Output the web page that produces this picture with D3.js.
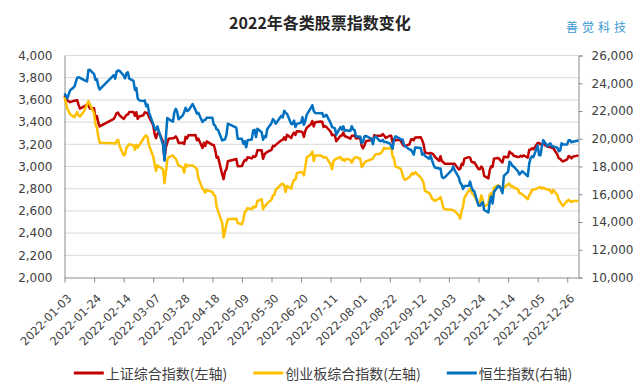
<!DOCTYPE html>
<html><head><meta charset="utf-8">
<script src="https://cdn.jsdelivr.net/npm/d3@7"></script>
<style>
html,body{margin:0;padding:0;background:#fff;}
svg{display:block;}
</style></head>
<body>
<svg id="chart" width="640" height="392"></svg>
<script>
// ---- data ----
const dates = ["2022-01-03","2022-01-05","2022-01-07","2022-01-10","2022-01-12","2022-01-13","2022-01-14","2022-01-17","2022-01-19","2022-01-20","2022-01-21","2022-01-24","2022-01-25","2022-01-26","2022-01-27","2022-01-28",
"2022-02-07","2022-02-08","2022-02-09","2022-02-10","2022-02-11","2022-02-14","2022-02-15","2022-02-16","2022-02-17","2022-02-18","2022-02-21","2022-02-22","2022-02-23","2022-02-24","2022-02-25","2022-02-28",
"2022-03-01","2022-03-02","2022-03-03","2022-03-04","2022-03-07","2022-03-08","2022-03-09","2022-03-10","2022-03-11","2022-03-14","2022-03-15","2022-03-16","2022-03-17","2022-03-18","2022-03-21","2022-03-22","2022-03-23","2022-03-24","2022-03-25","2022-03-28","2022-03-29","2022-03-30","2022-03-31",
"2022-04-01","2022-04-04","2022-04-06","2022-04-07","2022-04-08","2022-04-11","2022-04-12","2022-04-13","2022-04-14","2022-04-18","2022-04-19","2022-04-20","2022-04-21","2022-04-22","2022-04-25","2022-04-26","2022-04-27","2022-04-28","2022-04-29",
"2022-05-05","2022-05-06","2022-05-09","2022-05-10","2022-05-11","2022-05-12","2022-05-13","2022-05-16","2022-05-17","2022-05-18","2022-05-19","2022-05-20","2022-05-23","2022-05-24","2022-05-25","2022-05-26","2022-05-27","2022-05-30","2022-05-31",
"2022-06-01","2022-06-02","2022-06-06","2022-06-07","2022-06-08","2022-06-09","2022-06-10","2022-06-13","2022-06-14","2022-06-15","2022-06-16","2022-06-17","2022-06-20","2022-06-21","2022-06-22","2022-06-23","2022-06-24","2022-06-27","2022-06-28","2022-06-29","2022-06-30",
"2022-07-04","2022-07-05","2022-07-06","2022-07-07","2022-07-08","2022-07-11","2022-07-12","2022-07-13","2022-07-14","2022-07-15","2022-07-18","2022-07-19","2022-07-20","2022-07-21","2022-07-22","2022-07-25","2022-07-26","2022-07-27","2022-07-28","2022-07-29",
"2022-08-01","2022-08-02","2022-08-03","2022-08-04","2022-08-05","2022-08-08","2022-08-09","2022-08-10","2022-08-11","2022-08-12","2022-08-15","2022-08-16","2022-08-17","2022-08-18","2022-08-19","2022-08-22","2022-08-23","2022-08-24","2022-08-25","2022-08-26","2022-08-29","2022-08-30","2022-08-31",
"2022-09-01","2022-09-02","2022-09-05","2022-09-06","2022-09-07","2022-09-08","2022-09-09","2022-09-13","2022-09-14","2022-09-15","2022-09-16","2022-09-19","2022-09-20","2022-09-21","2022-09-22","2022-09-23","2022-09-26","2022-09-27","2022-09-28","2022-09-29","2022-09-30",
"2022-10-05","2022-10-06","2022-10-07","2022-10-10","2022-10-11","2022-10-12","2022-10-13","2022-10-14","2022-10-17","2022-10-18","2022-10-19","2022-10-20","2022-10-21","2022-10-24","2022-10-25","2022-10-26","2022-10-27","2022-10-28","2022-10-31",
"2022-11-01","2022-11-02","2022-11-03","2022-11-04","2022-11-07","2022-11-08","2022-11-09","2022-11-10","2022-11-11","2022-11-14","2022-11-15","2022-11-16","2022-11-17","2022-11-18","2022-11-21","2022-11-22","2022-11-23","2022-11-24","2022-11-25","2022-11-28","2022-11-29","2022-11-30",
"2022-12-01","2022-12-02","2022-12-05","2022-12-06","2022-12-07","2022-12-08","2022-12-09","2022-12-12","2022-12-13","2022-12-14","2022-12-15","2022-12-16","2022-12-19","2022-12-20","2022-12-21","2022-12-22","2022-12-23","2022-12-26","2022-12-27","2022-12-28","2022-12-29","2022-12-30","2023-01-03"];

// 上证综合指数 (left axis)
const shValues = [3640,3595,3580,3593,3597,3555,3521,3541,3558,3555,3522,3524,3433,3455,3394,3361,
3429,3452,3480,3486,3462,3429,3446,3465,3468,3491,3490,3457,3489,3429,3451,3462,
3488,3484,3481,3447,3372,3293,3256,3296,3309,3223,3064,3171,3215,3251,3254,3259,3272,3251,3212,3214,3203,3267,3252,
3282,3282,3284,3236,3252,3167,3213,3186,3226,3195,3194,3151,3079,3087,2928,2886,2958,2975,3047,
3068,3002,3004,3035,3058,3054,3084,3073,3094,3085,3096,3146,3146,3070,3107,3123,3131,3149,3186,
3182,3195,3236,3241,3263,3239,3285,3256,3288,3305,3285,3317,3315,3307,3267,3320,3349,3380,3409,3361,3399,
3405,3404,3355,3364,3356,3313,3281,3285,3282,3228,3278,3279,3305,3272,3270,3251,3277,3276,3282,3253,
3259,3186,3164,3189,3227,3236,3248,3230,3282,3276,3276,3277,3293,3278,3258,3277,3276,3216,3246,3236,3240,3227,3202,
3184,3186,3199,3243,3246,3236,3262,3263,3237,3199,3126,3116,3122,3117,3109,3088,3051,3093,3045,3041,3024,
3024,3024,3024,2974,2979,3025,3016,3071,3084,3080,3044,3036,3038,2977,2976,2999,2982,2916,2893,
2969,3003,2997,3071,3077,3064,3048,3036,3087,3083,3134,3120,3115,3097,3085,3088,3096,3089,3101,3079,3150,3151,
3165,3156,3212,3212,3199,3197,3206,3179,3176,3176,3168,3167,3107,3073,3068,3054,3046,3065,3095,3087,3073,3089,3100];

// 创业板综合指数 (left axis)
const cyValues = [3625,3520,3470,3445,3490,3460,3450,3500,3560,3590,3560,3480,3380,3350,3270,3215,
3210,3205,3230,3240,3190,3100,3110,3170,3185,3200,3190,3150,3195,3170,3190,3250,
3270,3280,3260,3190,3090,3020,2960,3010,3000,2975,2850,2950,3060,3085,3100,3080,3070,3040,3010,2990,2945,3020,3000,
3010,3010,2990,2975,2900,2800,2790,2765,2790,2770,2745,2735,2640,2600,2490,2360,2420,2480,2525,
2530,2490,2480,2520,2590,2600,2625,2615,2640,2630,2640,2690,2705,2615,2640,2650,2670,2700,2740,
2745,2790,2840,2845,2830,2770,2825,2800,2850,2880,2880,2940,2950,2945,2920,3000,3080,3110,3135,3050,3100,
3100,3090,3080,3085,3080,3020,2975,3050,3060,3070,3085,3060,3065,3050,3070,3060,3035,3060,3080,3085,
3070,2995,3010,3035,3045,3060,3065,3070,3095,3110,3115,3125,3145,3170,3160,3165,3175,3090,3070,3000,2985,2975,2930,
2890,2880,2905,2925,2940,2930,2950,2900,2880,2850,2780,2760,2740,2710,2700,2690,2710,2725,2680,2630,2615,
2610,2605,2600,2560,2530,2600,2640,2720,2780,2800,2770,2750,2735,2660,2680,2740,2700,2640,2660,
2750,2760,2730,2810,2830,2820,2800,2790,2810,2840,2845,2820,2825,2810,2795,2760,2760,2750,2740,2705,2740,2760,
2790,2790,2805,2810,2815,2800,2810,2790,2795,2780,2760,2790,2740,2700,2680,2660,2645,2690,2700,2690,2680,2690,2690];

// 恒生指数 (right axis)
const hsValues = [23275,22907,23493,23746,24402,24430,24383,24219,24127,24952,24966,24656,24243,24289,23807,23550,
24580,24329,24830,24925,24906,24556,24356,24718,24792,24328,24170,23520,23660,22901,22767,22713,
22761,22344,22467,21906,21058,20766,20627,20890,20554,19532,18415,20088,21501,21412,21221,21889,22154,21946,21405,21684,21928,22232,21997,
22039,22502,22081,21808,21872,21208,21320,21374,21518,21518,21027,20944,20682,20638,19870,19934,19946,20276,21089,
20794,20002,20002,19633,19824,19381,19899,19951,20602,20644,20120,20717,20470,19923,20171,20116,20698,21123,21415,
21294,21082,21653,21531,22014,21869,21806,21068,21067,21308,20845,21075,21164,21559,21008,21273,21719,22230,22419,21996,21860,
21830,21853,21587,21644,21725,21124,20845,20797,20751,20297,20846,20661,20891,20575,20610,20563,20905,20670,20622,20157,
20166,19690,19767,20174,20202,20046,20003,19610,20082,20175,19831,19830,19922,19763,19773,19657,19503,19268,19968,20170,20023,19949,19954,
19597,19452,19225,19202,19044,18854,19362,19326,18847,18930,18762,18566,18781,18444,18147,17933,17856,17860,17251,17165,17223,
17740,18012,17740,17217,16832,16701,16389,16588,16612,16914,16512,16280,16211,15180,15165,15317,15428,14864,14687,
15455,15827,15339,16161,16595,16557,16359,16081,17326,17619,18343,18256,18045,17993,17656,17424,17524,17661,17573,17297,18205,18597,
18736,18675,19518,18815,18814,19450,19901,19463,19596,19674,19450,19451,19353,19095,19161,19679,19594,19594,19899,19898,19742,19781,19880];

const seriesNames = ["上证综合指数(左轴)","创业板综合指数(左轴)","恒生指数(右轴)"];
const seriesColors = ["#C00000","#FFC000","#0070C0"];
const xTickLabels = ["2022-01-03","2022-01-24","2022-02-14","2022-03-07","2022-03-28","2022-04-18","2022-05-09","2022-05-30","2022-06-20","2022-07-11","2022-08-01","2022-08-22","2022-09-12","2022-10-03","2022-10-24","2022-11-14","2022-12-05","2022-12-26"];
const leftTicks = [2000,2200,2400,2600,2800,3000,3200,3400,3600,3800,4000];
const rightTicks = [10000,12000,14000,16000,18000,20000,22000,24000,26000];
const xDomain = ["2022-01-03","2023-01-03"];
const title = "2022年各类股票指数变化";
const brand = "善觉科技";

// ---- chart ----
const parse = d3.timeParse("%Y-%m-%d");
const svg = d3.select("#chart");
const m = {left: 64.5, right: 578.5, top: 55.5, bottom: 277.5};
const numFont = "'DejaVu Sans', sans-serif";
const cjkFont = "'Noto Sans CJK SC', sans-serif";
const textColor = "#404040";

const x = d3.scaleTime().domain(xDomain.map(parse)).range([m.left, m.right]);
const yL = d3.scaleLinear().domain([2000, 4000]).range([m.bottom, m.top]);
const yR = d3.scaleLinear().domain([10000, 26000]).range([m.bottom, m.top]);

// gridlines
svg.append("g").selectAll("line").data(leftTicks.slice(1)).join("line")
  .attr("x1", m.left).attr("x2", m.right)
  .attr("y1", d => yL(d)).attr("y2", d => yL(d))
  .attr("stroke", "#d9d9d9").attr("stroke-width", 1);

// left axis
const gL = svg.append("g").attr("transform", `translate(${m.left},0)`)
  .call(d3.axisLeft(yL).tickValues(leftTicks).tickFormat(d3.format(",")).tickSize(0).tickPadding(12));
gL.select(".domain").attr("stroke", "#8c8c8c");
gL.selectAll("text").attr("font-family", numFont).attr("font-size", 12).attr("fill", textColor);

// right axis
const gR = svg.append("g").attr("transform", `translate(${m.right},0)`)
  .call(d3.axisRight(yR).tickValues(rightTicks).tickFormat(d3.format(",")).tickSize(4).tickPadding(9));
gR.select(".domain").attr("stroke", "#8c8c8c");
gR.selectAll("line").attr("stroke", "#8c8c8c");
gR.selectAll("text").attr("font-family", numFont).attr("font-size", 12).attr("fill", textColor);

// bottom axis
const gX = svg.append("g").attr("transform", `translate(0,${m.bottom})`)
  .call(d3.axisBottom(x).tickValues(xTickLabels.map(parse)).tickFormat(d3.timeFormat("%Y-%m-%d")).tickSize(5).tickSizeOuter(0));
gX.select(".domain").attr("stroke", "#8c8c8c");
gX.selectAll(".tick line").attr("stroke", "#8c8c8c");
gX.selectAll("text")
  .attr("font-family", numFont).attr("font-size", 11.5).attr("fill", textColor)
  .attr("text-anchor", "end").attr("dy", null).attr("y", null)
  .attr("transform", "translate(5,19) rotate(-45)")
  .attr("dominant-baseline", "middle");

// lines
const parsedDates = dates.map(parse);
const allSeries = [
  {vals: shValues, y: yL, color: seriesColors[0]},
  {vals: cyValues, y: yL, color: seriesColors[1]},
  {vals: hsValues, y: yR, color: seriesColors[2]}
];
allSeries.forEach(s => {
  const line = d3.line().x((d, i) => x(parsedDates[i])).y(d => s.y(d));
  svg.append("path").datum(s.vals)
    .attr("d", line).attr("fill", "none")
    .attr("stroke", s.color).attr("stroke-width", 2.5)
    .attr("stroke-linejoin", "round");
});

// title
svg.append("text").attr("x", 320).attr("y", 29).attr("text-anchor", "middle")
  .attr("font-family", cjkFont).attr("font-weight", "bold").attr("font-size", 16)
  .attr("fill", "#262626").text(title);
svg.append("text").attr("x", 598).attr("y", 32).attr("text-anchor", "middle")
  .attr("font-family", cjkFont).attr("font-size", 12).attr("letter-spacing", 4)
  .attr("fill", "#3c9ad3").text(brand);

// legend
const legend = svg.append("g");
let lx = 0;
seriesNames.forEach((name, i) => {
  const g = legend.append("g");
  g.append("line").attr("x1", 0).attr("x2", 30).attr("y1", 0).attr("y2", 0)
    .attr("stroke", seriesColors[i]).attr("stroke-width", 3);
  const t = g.append("text").attr("x", 32).attr("y", 0).attr("dominant-baseline", "central")
    .attr("font-family", cjkFont).attr("font-size", 14).attr("fill", textColor).text(name);
  const w = 32 + t.node().getComputedTextLength();
  g.attr("transform", `translate(${lx},0)`);
  lx += w + 26;
});
const totalW = lx - 26;
legend.attr("transform", `translate(${323 - totalW / 2},373)`);
</script>
</body></html>
